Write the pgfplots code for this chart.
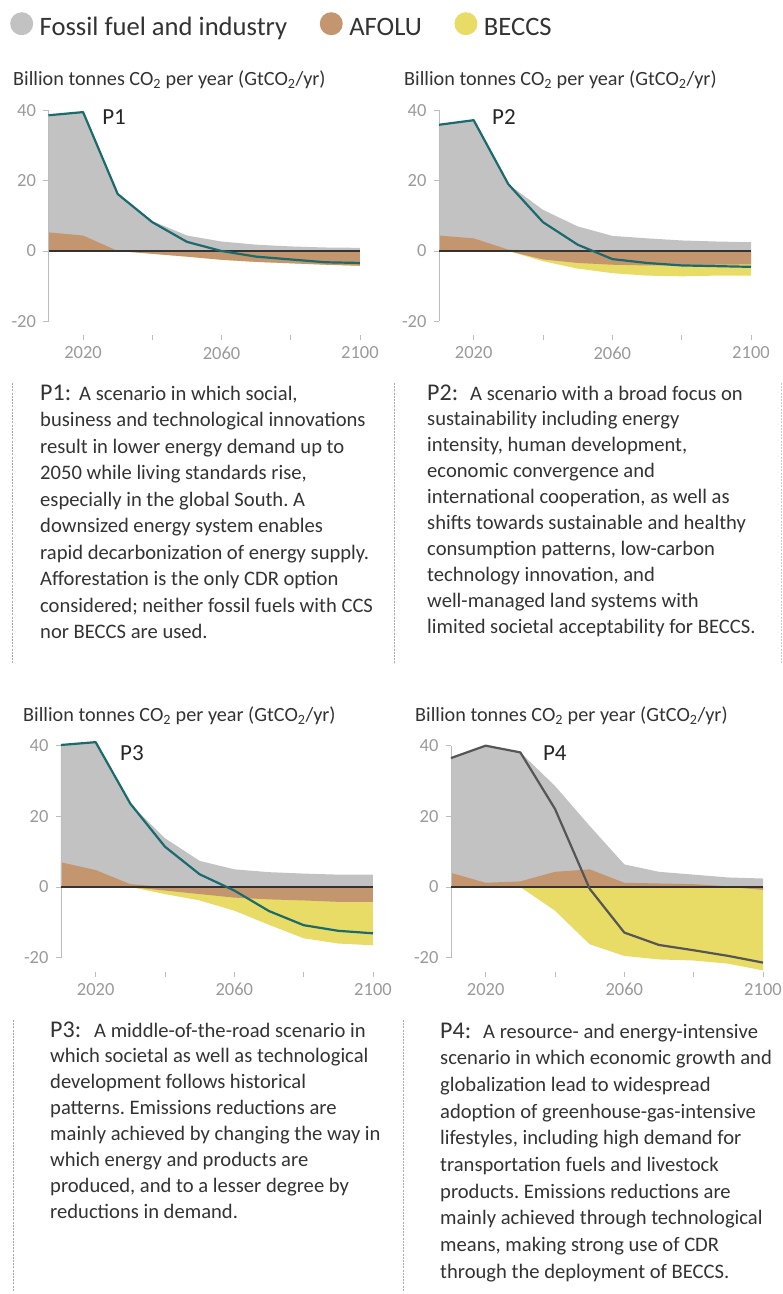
\documentclass[border=0pt]{standalone}
\usepackage{fontspec}
\setmainfont{Carlito}
\usepackage{pgfplots}
\pgfplotsset{compat=1.18}
\usepackage{pgfplotstable}
\frenchspacing

\definecolor{ffgray}{HTML}{C2C2C2}
\definecolor{afolu}{HTML}{C4966F}
\definecolor{beccs}{HTML}{E8DC66}
\definecolor{netteal}{HTML}{1B6A6D}
\definecolor{netgray}{HTML}{565656}
\definecolor{lblgray}{HTML}{9A9A9A}
\definecolor{axgray}{HTML}{BDBDBD}
\definecolor{txt}{HTML}{333333}
\definecolor{dashgray}{HTML}{AAAAAA}

% year, top of grey area, top of AFOLU (positive), bottom of AFOLU (negative), bottom of BECCS, net
\pgfplotstableread{
year gray bpos bneg ybot net
2010 38.6 5.3 0 0 38.6
2020 39.5 4.4 0 0 39.5
2030 16.2 0.0 0 0 16.2
2040 8.5 0 -0.8 -0.8 8.2
2050 4.4 0 -1.6 -1.6 2.6
2060 2.7 0 -2.5 -2.5 0.0
2070 1.8 0 -3.1 -3.1 -1.6
2080 1.3 0 -3.5 -3.5 -2.4
2090 1.0 0 -3.9 -3.9 -3.2
2100 0.9 0 -4.2 -4.2 -3.4
}\pone
\pgfplotstableread{
year gray bpos bneg ybot net
2010 35.9 4.4 0 0 35.9
2020 37.2 3.6 0 0 37.2
2030 19.0 0.4 0 0 19.0
2040 11.7 0 -2.4 -2.9 8.2
2050 7.0 0 -3.4 -5.0 1.8
2060 4.3 0 -3.9 -6.3 -2.3
2070 3.6 0 -4.1 -7.0 -3.4
2080 3.0 0 -4.1 -7.2 -4.1
2090 2.7 0 -3.9 -7.0 -4.3
2100 2.5 0 -3.8 -7.0 -4.5
}\ptwo
\pgfplotstableread{
year gray bpos bneg ybot net
2010 40.2 7.0 0 0 40.2
2020 41.0 4.8 0 0 41.0
2030 23.6 0.8 0 0 23.6
2040 13.8 0 -1.0 -2.0 11.4
2050 7.4 0 -2.0 -3.8 3.6
2060 5.0 0 -3.0 -6.7 -1.0
2070 4.2 0 -3.5 -10.7 -6.8
2080 3.8 0 -3.8 -14.5 -10.8
2090 3.5 0 -4.2 -16.0 -12.4
2100 3.5 0 -4.2 -16.5 -13.1
}\pthree
\pgfplotstableread{
year gray bpos bneg ybot net
2010 36.5 4.0 0 0 36.5
2020 40.0 1.2 0 0 40.0
2030 38.1 1.6 0 0 38.1
2040 28.6 4.3 0 -6.7 22.1
2050 17.3 5.0 0 -16.2 -0.5
2060 6.4 1.2 0 -19.5 -12.9
2070 4.3 1.0 0 -20.5 -16.4
2080 3.5 0.8 0 -20.8 -17.9
2090 2.7 0.2 0 -21.7 -19.5
2100 2.4 0 -0.8 -23.6 -21.4
}\pfour

\pgfplotsset{
  panel/.style={
    scale only axis, anchor=south west,
    xmin=2010, xmax=2100, ymin=-24, ymax=42,
    clip=false,
    axis line style={draw=none},
    xtick={2020,2040,2060,2080,2100},
    xticklabels={2020,,2060,,2100},
    ytick={-20,0,20,40},
    yticklabels={-20,0,20,40},
    xtick pos=lower, ytick pos=left,
    tick align=outside,
    major tick length=5pt,
    tick style={draw=axgray, line width=0.8pt},
    ticklabel style={font=\fontsize{18.5}{20}\selectfont, text=lblgray},
    xticklabel style={yshift=-3pt},
    yticklabel style={xshift=-4pt},
    /pgf/number format/assume math mode=true,
  },
}
\newcommand{\areas}[2]{%
  \addplot[fill=ffgray, draw=none] table[x=year,y=gray]{#1} \closedcycle;
  \addplot[fill=beccs, draw=none] table[x=year,y=ybot]{#1} \closedcycle;
  \addplot[fill=afolu, draw=none] table[x=year,y=bpos]{#1} \closedcycle;
  \addplot[fill=afolu, draw=none] table[x=year,y=bneg]{#1} \closedcycle;
  \addplot[axgray, line width=0.8pt] coordinates {(2010,-20) (2010,40)};
  \addplot[black!80, line width=1.3pt] coordinates {(2010,0) (2100,0)};
  \addplot[#2, line width=2.2pt, line join=round] table[x=year,y=net]{#1};
}
\newcommand{\bodyfont}{\fontsize{20.6}{24}\selectfont}
\newcommand{\tl}[3]{\node[anchor=base west, inner sep=0pt, font=\bodyfont, text=txt] at (#1pt,-#2pt) {#3};}
\newcommand{\hd}[3]{\node[anchor=base west, inner sep=0pt, font=\fontsize{24}{26}\selectfont, text=txt] at (#1pt,-#2pt) {#3};}
\newcommand{\ttl}[2]{\node[anchor=base west, inner sep=0pt, font=\fontsize{20.2}{22}\selectfont, text=txt] at (#1pt,-#2pt) {Billion tonnes CO\textsubscript{2} per year (GtCO\textsubscript{2}/yr)};}
\newcommand{\plab}[2]{\node[anchor=west, inner sep=0pt, font=\fontsize{23}{24}\selectfont, text=black!85] at (axis cs:#1,#2)}

\begin{document}
\begin{tikzpicture}
\path[use as bounding box] (0pt,0pt) rectangle (783pt,-1294pt);

% ---------------- P1 ----------------
\begin{axis}[panel, at={(48.5pt,-335.4pt)}, width=311.5pt, height=232.1pt,
  legend columns=3,
  legend style={draw=none, fill=none, inner sep=0pt,
    at={(axis description cs:-0.1236,1.3934)}, anchor=north west,
    font=\fontsize{26.6}{28}\selectfont, text=txt,
    /tikz/every even column/.append style={column sep=30.5pt}},
  legend image code/.code={\fill[#1] (0pt,0.36em) circle (11.5pt); \path (16pt,0.36em);}]
\addlegendimage{fill=ffgray, draw=none}\addlegendentry{Fossil fuel and industry}
\addlegendimage{fill=afolu, draw=none}\addlegendentry{AFOLU}
\addlegendimage{fill=beccs, draw=none}\addlegendentry{BECCS}
\areas{\pone}{netteal}
\plab{2025.5}{38.1} {P1};
\end{axis}

% ---------------- P2 ----------------
\begin{axis}[panel, at={(439pt,-335.4pt)}, width=312pt, height=232.1pt]
\areas{\ptwo}{netteal}
\plab{2025.3}{38.1} {P2};
\end{axis}

% ---------------- P3 ----------------
\begin{axis}[panel, at={(61pt,-971.8pt)}, width=312pt, height=233.2pt]
\areas{\pthree}{netteal}
\plab{2027.0}{37.9} {P3};
\end{axis}

% ---------------- P4 ----------------
\begin{axis}[panel, at={(451pt,-971.8pt)}, width=312pt, height=233.2pt]
\areas{\pfour}{netgray}
\plab{2036.5}{37.9} {P4};
\end{axis}

% titles
\ttl{13}{85}
\ttl{404}{85}
\ttl{23}{721}
\ttl{415}{721}

% dashed separators
\draw[dashgray, line width=0.9pt, dash pattern=on 2pt off 1.2pt] (12pt,-383pt) -- (12pt,-663pt);
\draw[dashgray, line width=0.9pt, dash pattern=on 2pt off 1.2pt] (394.5pt,-383pt) -- (394.5pt,-663pt);
\draw[dashgray!60, line width=0.9pt, dash pattern=on 2pt off 1.2pt] (781pt,-383pt) -- (781pt,-663pt);
\draw[dashgray, line width=0.9pt, dash pattern=on 2pt off 1.2pt] (13pt,-1020pt) -- (13pt,-1292pt);
\draw[dashgray, line width=0.9pt, dash pattern=on 2pt off 1.2pt] (403pt,-1020pt) -- (403pt,-1292pt);

% P1 text
\hd{40}{400}{P1:}
\tl{79}{400}{A scenario in which social,}
\tl{40}{426.5}{business and technological innovations}
\tl{40}{453}{result in lower energy demand up to}
\tl{40}{479.5}{2050 while living standards rise,}
\tl{40}{506}{especially in the global South. A}
\tl{40}{532.5}{downsized energy system enables}
\tl{40}{559}{rapid decarbonization of energy supply.}
\tl{40}{585.5}{Afforestation is the only CDR option}
\tl{40}{612}{considered; neither fossil fuels with CCS}
\tl{40}{638.5}{nor BECCS are used.}

% P2 text
\hd{427}{400}{P2:}
\tl{470}{400}{A scenario with a broad focus on}
\tl{427}{425.9}{sustainability including energy}
\tl{427}{451.8}{intensity, human development,}
\tl{427}{477.7}{economic convergence and}
\tl{427}{503.6}{international cooperation, as well as}
\tl{427}{529.5}{shifts towards sustainable and healthy}
\tl{427}{555.4}{consumption patterns, low-carbon}
\tl{427}{581.3}{technology innovation, and}
\tl{427}{607.2}{well-managed land systems with}
\tl{427}{633.1}{limited societal acceptability for BECCS.}

% P3 text
\hd{50}{1037}{P3:}
\tl{94}{1037}{A middle-of-the-road scenario in}
\tl{50}{1062.9}{which societal as well as technological}
\tl{50}{1088.8}{development follows historical}
\tl{50}{1114.7}{patterns. Emissions reductions are}
\tl{50}{1140.6}{mainly achieved by changing the way in}
\tl{50}{1166.5}{which energy and products are}
\tl{50}{1192.4}{produced, and to a lesser degree by}
\tl{50}{1218.3}{reductions in demand.}

% P4 text
\hd{440}{1038}{P4:}
\tl{483}{1038}{A resource- and energy-intensive}
\tl{440}{1064.7}{scenario in which economic growth and}
\tl{440}{1091.4}{globalization lead to widespread}
\tl{440}{1118.1}{adoption of greenhouse-gas-intensive}
\tl{440}{1144.8}{lifestyles, including high demand for}
\tl{440}{1171.5}{transportation fuels and livestock}
\tl{440}{1198.2}{products. Emissions reductions are}
\tl{440}{1224.9}{mainly achieved through technological}
\tl{440}{1251.6}{means, making strong use of CDR}
\tl{440}{1278.3}{through the deployment of BECCS.}
\end{tikzpicture}
\end{document}
